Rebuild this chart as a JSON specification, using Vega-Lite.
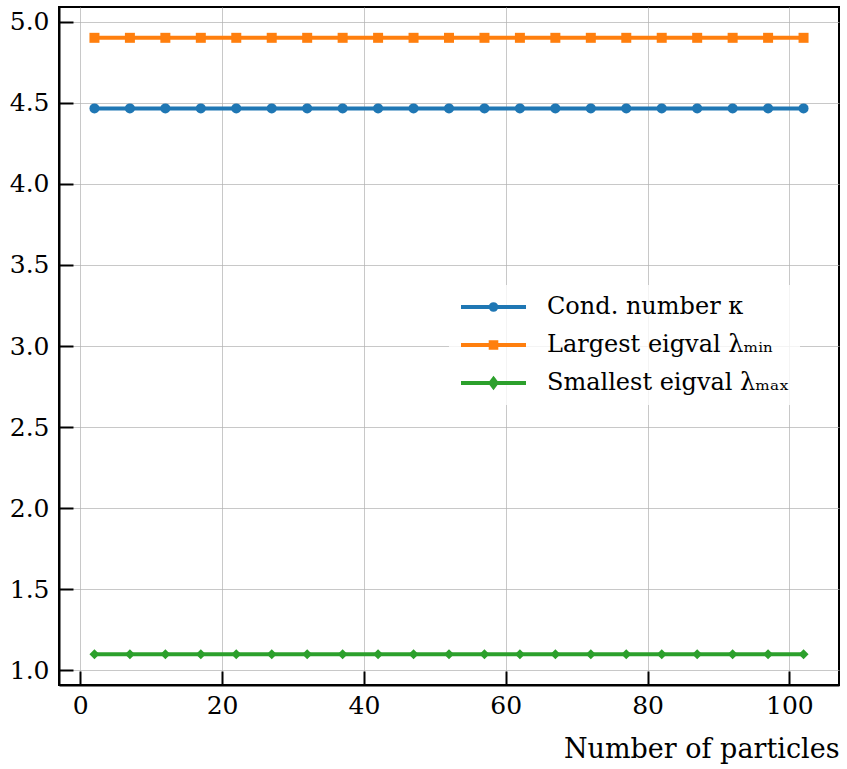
{
  "$schema": "https://vega.github.io/schema/vega-lite/v6.json",
  "width": 780,
  "height": 678,
  "autosize": {"type": "none"},
  "padding": {"left": 59, "top": 7, "right": 8, "bottom": 84},
  "config": {
    "font": "DejaVu Serif",
    "view": {"stroke": "black", "strokeWidth": 2},
    "axis": {
      "labelFont": "DejaVu Serif",
      "labelFontSize": 25,
      "labelColor": "black",
      "titleFont": "DejaVu Serif",
      "titleFontSize": 27,
      "titleFontWeight": "normal",
      "titleColor": "black",
      "domainColor": "black",
      "domainWidth": 2,
      "tickColor": "black",
      "tickWidth": 2,
      "tickSize": -14,
      "gridColor": "#b0b0b0",
      "gridOpacity": 0.7,
      "gridWidth": 1
    }
  },
  "data": {
    "values": [
      {"n": 2, "series": "Cond. number κ", "v": 4.465},
      {"n": 7, "series": "Cond. number κ", "v": 4.465},
      {"n": 12, "series": "Cond. number κ", "v": 4.465},
      {"n": 17, "series": "Cond. number κ", "v": 4.465},
      {"n": 22, "series": "Cond. number κ", "v": 4.465},
      {"n": 27, "series": "Cond. number κ", "v": 4.465},
      {"n": 32, "series": "Cond. number κ", "v": 4.465},
      {"n": 37, "series": "Cond. number κ", "v": 4.465},
      {"n": 42, "series": "Cond. number κ", "v": 4.465},
      {"n": 47, "series": "Cond. number κ", "v": 4.465},
      {"n": 52, "series": "Cond. number κ", "v": 4.465},
      {"n": 57, "series": "Cond. number κ", "v": 4.465},
      {"n": 62, "series": "Cond. number κ", "v": 4.465},
      {"n": 67, "series": "Cond. number κ", "v": 4.465},
      {"n": 72, "series": "Cond. number κ", "v": 4.465},
      {"n": 77, "series": "Cond. number κ", "v": 4.465},
      {"n": 82, "series": "Cond. number κ", "v": 4.465},
      {"n": 87, "series": "Cond. number κ", "v": 4.465},
      {"n": 92, "series": "Cond. number κ", "v": 4.465},
      {"n": 97, "series": "Cond. number κ", "v": 4.465},
      {"n": 102, "series": "Cond. number κ", "v": 4.465},
      {"n": 2, "series": "Largest eigval λₘᵢₙ", "v": 4.9},
      {"n": 7, "series": "Largest eigval λₘᵢₙ", "v": 4.9},
      {"n": 12, "series": "Largest eigval λₘᵢₙ", "v": 4.9},
      {"n": 17, "series": "Largest eigval λₘᵢₙ", "v": 4.9},
      {"n": 22, "series": "Largest eigval λₘᵢₙ", "v": 4.9},
      {"n": 27, "series": "Largest eigval λₘᵢₙ", "v": 4.9},
      {"n": 32, "series": "Largest eigval λₘᵢₙ", "v": 4.9},
      {"n": 37, "series": "Largest eigval λₘᵢₙ", "v": 4.9},
      {"n": 42, "series": "Largest eigval λₘᵢₙ", "v": 4.9},
      {"n": 47, "series": "Largest eigval λₘᵢₙ", "v": 4.9},
      {"n": 52, "series": "Largest eigval λₘᵢₙ", "v": 4.9},
      {"n": 57, "series": "Largest eigval λₘᵢₙ", "v": 4.9},
      {"n": 62, "series": "Largest eigval λₘᵢₙ", "v": 4.9},
      {"n": 67, "series": "Largest eigval λₘᵢₙ", "v": 4.9},
      {"n": 72, "series": "Largest eigval λₘᵢₙ", "v": 4.9},
      {"n": 77, "series": "Largest eigval λₘᵢₙ", "v": 4.9},
      {"n": 82, "series": "Largest eigval λₘᵢₙ", "v": 4.9},
      {"n": 87, "series": "Largest eigval λₘᵢₙ", "v": 4.9},
      {"n": 92, "series": "Largest eigval λₘᵢₙ", "v": 4.9},
      {"n": 97, "series": "Largest eigval λₘᵢₙ", "v": 4.9},
      {"n": 102, "series": "Largest eigval λₘᵢₙ", "v": 4.9},
      {"n": 2, "series": "Smallest eigval λₘₐₓ", "v": 1.1},
      {"n": 7, "series": "Smallest eigval λₘₐₓ", "v": 1.1},
      {"n": 12, "series": "Smallest eigval λₘₐₓ", "v": 1.1},
      {"n": 17, "series": "Smallest eigval λₘₐₓ", "v": 1.1},
      {"n": 22, "series": "Smallest eigval λₘₐₓ", "v": 1.1},
      {"n": 27, "series": "Smallest eigval λₘₐₓ", "v": 1.1},
      {"n": 32, "series": "Smallest eigval λₘₐₓ", "v": 1.1},
      {"n": 37, "series": "Smallest eigval λₘₐₓ", "v": 1.1},
      {"n": 42, "series": "Smallest eigval λₘₐₓ", "v": 1.1},
      {"n": 47, "series": "Smallest eigval λₘₐₓ", "v": 1.1},
      {"n": 52, "series": "Smallest eigval λₘₐₓ", "v": 1.1},
      {"n": 57, "series": "Smallest eigval λₘₐₓ", "v": 1.1},
      {"n": 62, "series": "Smallest eigval λₘₐₓ", "v": 1.1},
      {"n": 67, "series": "Smallest eigval λₘₐₓ", "v": 1.1},
      {"n": 72, "series": "Smallest eigval λₘₐₓ", "v": 1.1},
      {"n": 77, "series": "Smallest eigval λₘₐₓ", "v": 1.1},
      {"n": 82, "series": "Smallest eigval λₘₐₓ", "v": 1.1},
      {"n": 87, "series": "Smallest eigval λₘₐₓ", "v": 1.1},
      {"n": 92, "series": "Smallest eigval λₘₐₓ", "v": 1.1},
      {"n": 97, "series": "Smallest eigval λₘₐₓ", "v": 1.1},
      {"n": 102, "series": "Smallest eigval λₘₐₓ", "v": 1.1}
    ]
  },
  "encoding": {
    "x": {
      "field": "n",
      "type": "quantitative",
      "scale": {"domain": [-3, 107], "nice": false, "zero": false},
      "axis": {
        "values": [0, 20, 40, 60, 80, 100],
        "labelPadding": 22,
        "title": "Number of particles",
        "titleAnchor": "end",
        "titleAlign": "right",
        "titlePadding": 18
      }
    },
    "y": {
      "field": "v",
      "type": "quantitative",
      "scale": {"domain": [0.91, 5.09], "nice": false, "zero": false},
      "axis": {
        "values": [1, 1.5, 2, 2.5, 3, 3.5, 4, 4.5, 5],
        "format": ".1f",
        "labelPadding": 24,
        "title": null
      }
    },
    "color": {
      "field": "series",
      "type": "nominal",
      "sort": ["Cond. number κ", "Largest eigval λₘᵢₙ", "Smallest eigval λₘₐₓ"],
      "scale": {"range": ["#1f77b4", "#ff7f0e", "#2ca02c"]}
    }
  },
  "layer": [
    {
      "mark": {"type": "line", "strokeWidth": 4},
      "encoding": {
        "color": {
          "field": "series",
          "type": "nominal",
          "sort": ["Cond. number κ", "Largest eigval λₘᵢₙ", "Smallest eigval λₘₐₓ"],
          "scale": {"range": ["#1f77b4", "#ff7f0e", "#2ca02c"]},
          "legend": {
            "title": null,
            "orient": "none",
            "legendX": 390,
            "legendY": 278,
            "padding": 10,
            "fillColor": "rgba(255,255,255,0.8)",
            "labelFont": "DejaVu Serif",
            "labelFontSize": 24,
            "labelColor": "black",
            "labelLimit": 400,
            "symbolSize": 400,
            "symbolStrokeWidth": 4,
            "labelOffset": 64,
            "rowPadding": 14,
            "encode": {
              "symbols": {
                "update": {
                  "shape": {"signal": "datum.index === 0 ? 'M-1,0L5.5,0M2.53,0A0.28,0.28 0 1,1 1.97,0A0.28,0.28 0 1,1 2.53,0Z' : datum.index === 1 ? 'M-1,0L5.5,0M1.97,-0.28L2.53,-0.28L2.53,0.28L1.97,0.28Z' : 'M-1,0L5.5,0M2.25,-0.4L2.55,0L2.25,0.4L1.95,0Z'"},
                  "fill": {"signal": "scale('color', datum.value)"},
                  "stroke": {"signal": "scale('color', datum.value)"},
                  "size": {"value": 400},
                  "strokeWidth": {"value": 4}
                }
              }
            }
          }
        }
      }
    },
    {
      "mark": {"type": "point", "filled": true, "opacity": 1},
      "encoding": {
        "shape": {
          "field": "series",
          "type": "nominal",
          "sort": ["Cond. number κ", "Largest eigval λₘᵢₙ", "Smallest eigval λₘₐₓ"],
          "scale": {"range": ["circle", "square", "diamond"]},
          "legend": null
        },
        "size": {"value": 100}
      }
    }
  ]
}
